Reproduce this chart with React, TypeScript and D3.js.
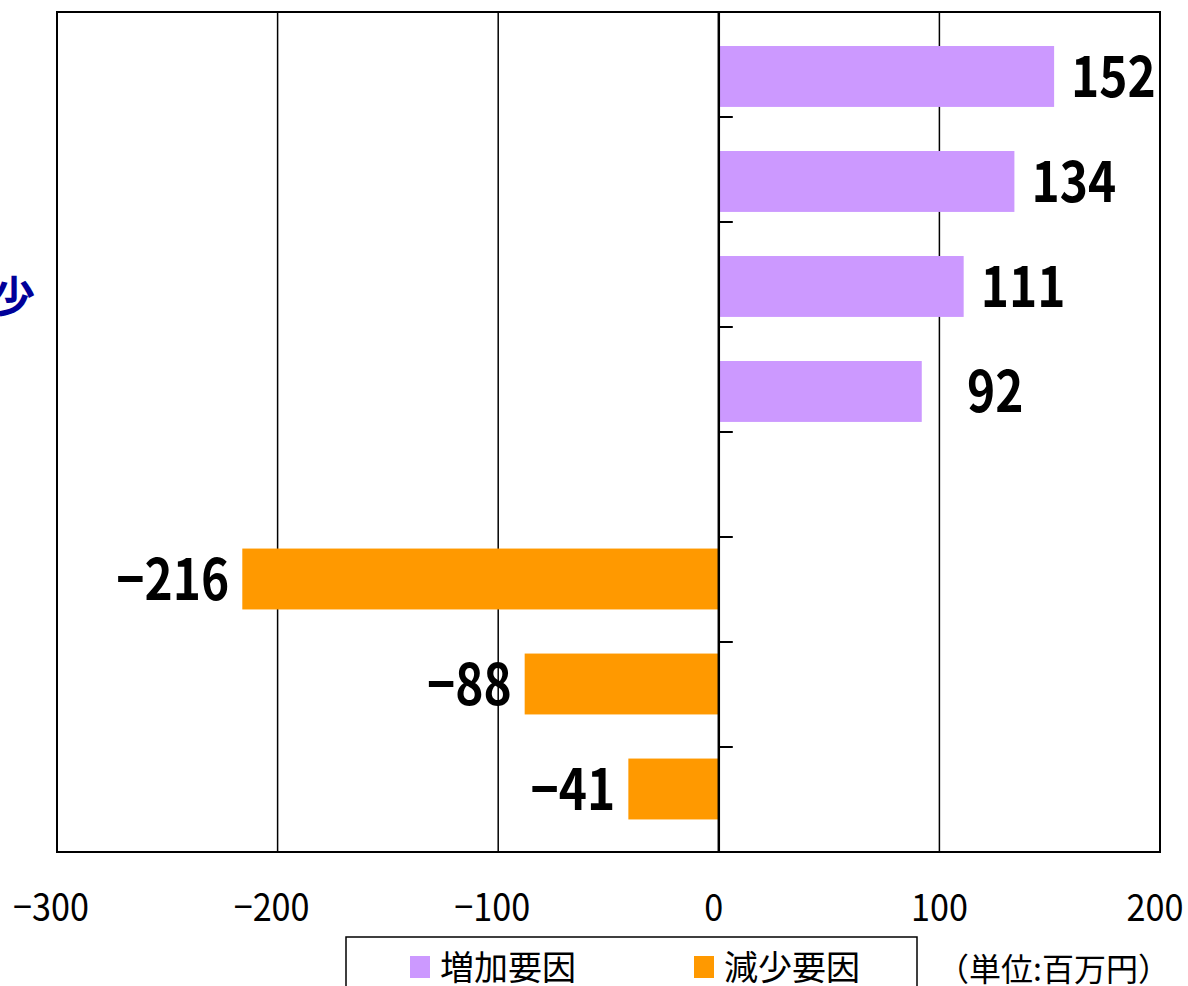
import React from "react";
import * as d3 from "d3";

const categories = ["要因1", "要因2", "要因3", "要因4", "空白", "要因5", "要因6", "要因7"];
const increaseValues: (number | null)[] = [152, 134, 111, 92, null, null, null, null];
const decreaseValues: (number | null)[] = [null, null, null, null, null, -216, -88, -41];
const xTicks = [-300, -200, -100, 0, 100, 200];
const seriesNames = ["増加要因", "減少要因"];
const unitLabel = "（単位:百万円）";
const sideLabel = "少";

const W = 1188;
const H = 986;
const plot = { left: 57, right: 1160, top: 12, bottom: 852 };
const colors = { inc: "#CC99FF", dec: "#FF9900" };
const fmt = d3.format("d");

export default function App() {
  const x = d3.scaleLinear().domain([-300, 200]).range([plot.left, plot.right]);
  const y = d3.scaleBand<string>().domain(categories).range([plot.top, plot.bottom]).padding(0);
  const bw = y.bandwidth();
  const barH = bw * 0.58;
  const offsets = { inc: bw * 0.324, dec: bw * 0.11 };
  const labelFont = "'Noto Sans CJK JP', 'DejaVu Sans', sans-serif";
  const tickShift = (t: number) => (t === 0 ? -5 : t < 0 ? -6 : t === 200 ? -5 : 0);

  const bars: JSX.Element[] = [];
  const labels: JSX.Element[] = [];
  categories.forEach((c, i) => {
    const band = y(c)!;
    const iv = increaseValues[i];
    if (iv != null) {
      const yy = band + offsets.inc;
      bars.push(
        <rect key={"i" + i} x={x(0)} y={yy} width={x(iv) - x(0)} height={barH} fill={colors.inc} />
      );
      labels.push(
        <text key={"li" + i} transform={`translate(${x(iv) + 17},${yy + barH / 2 + 21}) scale(0.84,1)`}
          fontSize={57} fontWeight="bold" fontFamily={labelFont} fill="#000" style={{ whiteSpace: "pre" }}>
          {fmt(iv).padStart(3, "\u2007")}
        </text>
      );
    }
    const dv = decreaseValues[i];
    if (dv != null) {
      const yy = band + offsets.dec;
      bars.push(
        <rect key={"d" + i} x={x(dv)} y={yy} width={x(0) - x(dv)} height={barH} fill={colors.dec} />
      );
      labels.push(
        <text key={"ld" + i} transform={`translate(${x(dv) - 13},${yy + barH / 2 + 21}) scale(0.84,1)`}
          textAnchor="end" fontSize={57} fontWeight="bold" fontFamily={labelFont} fill="#000">{fmt(dv)}</text>
      );
    }
  });

  const boundaries = categories.map((c) => y(c)!).concat([plot.bottom]);

  return (
    <svg width={W} height={H} style={{ position: "absolute", left: 0, top: 0, background: "#fff" }}>
      <rect x={0} y={0} width={W} height={H} fill="#fff" />
      {xTicks.filter((t) => t !== 0 && t !== -300 && t !== 200).map((t) => (
        <line key={"g" + t} x1={x(t)} x2={x(t)} y1={plot.top} y2={plot.bottom} stroke="#000" strokeWidth={1.5} />
      ))}
      {bars}
      <rect x={plot.left} y={plot.top} width={plot.right - plot.left} height={plot.bottom - plot.top}
        fill="none" stroke="#000" strokeWidth={2} />
      <line x1={x(0)} x2={x(0)} y1={plot.top} y2={plot.bottom} stroke="#000" strokeWidth={2.5} />
      {boundaries.map((b, i) => (
        <line key={"t" + i} x1={x(0)} x2={x(0) + 14} y1={b} y2={b} stroke="#000" strokeWidth={2} />
      ))}
      {labels}
      {xTicks.map((t) => (
        <text key={"xt" + t} transform={`translate(${x(t) + tickShift(t)},921) scale(0.9,1)`}
          textAnchor="middle" fontSize={38} fontFamily={labelFont} fill="#000">{fmt(t)}</text>
      ))}
      <text x={-7} y={312} fontSize={42} fontWeight="bold" fontFamily={labelFont} fill="#000099">{sideLabel}</text>
      <rect x={346} y={937} width={571} height={70} fill="#fff" stroke="#000" strokeWidth={1.5} />
      <rect x={410} y={956} width={20} height={22} fill={colors.inc} />
      <text x={440} y={980} fontSize={34} fontFamily={labelFont} fill="#000">{seriesNames[0]}</text>
      <rect x={694} y={956} width={20} height={22} fill={colors.dec} />
      <text x={724} y={980} fontSize={34} fontFamily={labelFont} fill="#000">{seriesNames[1]}</text>
      <text x={937} y={981} fontSize={32} fontFamily={labelFont} fill="#000">{unitLabel}</text>
    </svg>
  );
}
